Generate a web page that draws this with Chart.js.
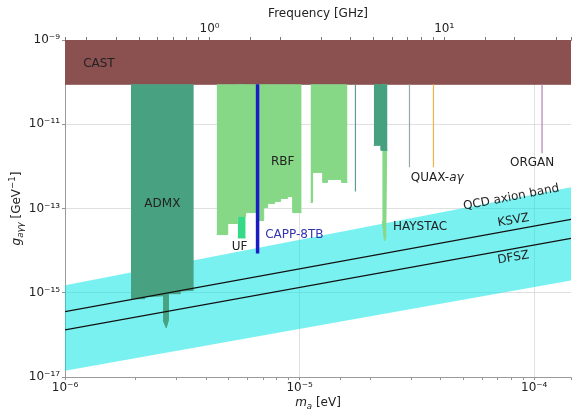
<!DOCTYPE html>
<html>
<head>
<meta charset="utf-8">
<script src="https://cdn.jsdelivr.net/npm/chart.js@4.4.1/dist/chart.umd.min.js"></script>
<style>
  html, body { margin: 0; padding: 0; background: #fff; }
</style>
</head>
<body>
<canvas id="axionChart" width="572" height="414"></canvas>
<script>
// axis ranges and ticks
const massMin = 1e-6, massMax = 1.435e-4;
const gMin = 1e-17, gMax = 1e-9;
const ghzPerEv = 1 / 4.1357e-6;
const massTicks = [1e-6, 1e-5, 1e-4];
const massTickLabels = ['10⁻⁶', '10⁻⁵', '10⁻⁴'];
const gTicks = [1e-17, 1e-15, 1e-13, 1e-11, 1e-9];
const gTickLabels = ['10⁻¹⁷', '10⁻¹⁵', '10⁻¹³', '10⁻¹¹', '10⁻⁹'];
const freqTicks = [1, 10];
const freqTickLabels = ['10⁰', '10¹'];

// CAST helioscope limit
const castBottom = 8.9e-11;
const castMass = [1e-6, 1.435e-4];
const castG = [8.9e-11, 8.9e-11];

// QCD band and model lines
const bandMass = [1e-6, 1.435e-4];
const bandTop = [1.5e-15, 3.2e-13];
const bandBottom = [1.4e-17, 1.95e-15];
const ksvzG = [3.55e-16, 5.5e-14];
const dfszG = [1.32e-16, 1.95e-14];

// haloscope exclusions (lower edge)
const admxMass = [1.91e-6, 2.19e-6, 2.19e-6, 2.64e-6, 2.64e-6, 2.70e-6, 2.76e-6, 2.76e-6, 3.10e-6, 3.10e-6, 3.54e-6];
const admxG = [7.2e-16, 7.2e-16, 8.0e-16, 8.5e-16, 2.0e-16, 1.47e-16, 2.2e-16, 9.5e-16, 9.5e-16, 1.1e-15, 1.15e-15];
const rbfMass = [4.43e-6, 4.94e-6, 5.45e-6, 5.89e-6, 6.62e-6, 7.03e-6, 7.31e-6, 7.83e-6, 8.30e-6, 8.89e-6, 9.34e-6, 1.02e-5];
const rbfG = [2.4e-14, 4.4e-14, 6.5e-14, 8.0e-14, 5.2e-14, 1.06e-13, 1.32e-13, 1.47e-13, 1.73e-13, 1.93e-13, 8.0e-14, 8.0e-14];
const rbf2Mass = [1.113e-5, 1.136e-5, 1.254e-5, 1.315e-5, 1.51e-5, 1.60e-5];
const rbf2G = [1.39e-13, 7.2e-13, 4.16e-13, 4.9e-13, 4.16e-13, 4.16e-13];
const ufMass = [5.45e-6, 5.89e-6];
const ufG = [2.0e-14, 2.0e-14];
const haystacMass = [2.07e-5, 2.22e-5, 2.37e-5];
const haystacG = [3.16e-12, 2.4e-12, 2.4e-12];
const haystacSpikeMass = [2.25e-5, 2.30e-5, 2.33e-5, 2.35e-5];
const haystacSpikeG = [5.0e-14, 1.7e-14, 2.0e-14, 2.4e-12];
const cappMass = 6.62e-6, cappG = 8.5e-15;
const tealMass = 1.73e-5, tealG = 2.54e-13;
const quaxMass = 2.94e-5, quaxG = 9.5e-13;
const quax2Mass = 3.72e-5, quax2G = 9.5e-13;
const organMass = 1.08e-4, organG = 2.04e-12;

// text labels (*...* = italic)
const labelText = ['CAST', 'ADMX', 'RBF', 'UF', 'CAPP-8TB', 'HAYSTAC', 'QUAX-*aγ*', 'ORGAN', 'QCD axion band', 'KSVZ', 'DFSZ'];
const labelMass = [1.395e-6, 2.60e-6, 8.47e-6, 5.55e-6, 9.5e-6, 3.26e-5, 3.86e-5, 9.8e-5, 7.98e-5, 8.15e-5, 8.15e-5];
const labelG = [2.7e-10, 1.26e-13, 1.28e-12, 1.25e-14, 2.4e-14, 3.7e-14, 5.2e-13, 1.21e-12, 1.83e-13, 5.2e-14, 6.8e-15];
const labelAngle = [0, 0, 0, 0, 0, 0, 0, 0, -11, -10, -10];

const FONT = '"DejaVu Sans", sans-serif';
const TEXT = '#222';

function pts(xs, ys) {
  return xs.map((x, i) => ({ x: x, y: ys[i] }));
}

// filled region between its lower edge and the CAST limit
function region(label, xs, ys, color, stepped) {
  return {
    label: label, data: pts(xs, ys),
    borderColor: color, backgroundColor: color, borderWidth: 1,
    pointRadius: 0, tension: 0, stepped: stepped ? 'before' : false,
    fill: { value: castBottom }
  };
}

function vline(label, x, yBottom, color, width) {
  return {
    label: label, data: pts([x, x], [castBottom, yBottom]),
    borderColor: color, borderWidth: width, pointRadius: 0, fill: false
  };
}

function pickLabel(v, ticks, labels) {
  const i = ticks.findIndex(t => Math.abs(t - v) / t < 1e-6);
  return i >= 0 ? labels[i] : '';
}

// draws a list of text runs centred on (0,0)
function drawRuns(c, runs, size, color) {
  let total = 0;
  runs.forEach(r => {
    const s = (r.sub || r.sup) ? size * 0.72 : size;
    r.font = (r.it ? 'italic ' : '') + s + 'px ' + FONT;
    c.font = r.font;
    r.w = c.measureText(r.t).width;
    total += r.w;
  });
  let x = -total / 2;
  c.fillStyle = color;
  c.textBaseline = 'middle';
  c.textAlign = 'left';
  runs.forEach(r => {
    c.font = r.font;
    const dy = r.sub ? size * 0.3 : (r.sup ? -size * 0.35 : 0);
    c.fillText(r.t, x, dy);
    x += r.w;
  });
}

function parseRuns(text) {
  return text.split('*').filter(t => t.length).map((t, i) => ({ t: t, it: text.startsWith('*') ? i % 2 === 0 : i % 2 === 1 }));
}

const textPlugin = {
  id: 'axionText',
  afterDatasetsDraw(chart) {
    const c = chart.ctx;
    const xs = chart.scales.x, ys = chart.scales.y;
    c.save();
    labelText.forEach((t, i) => {
      c.save();
      c.translate(xs.getPixelForValue(labelMass[i]), ys.getPixelForValue(labelG[i]));
      c.rotate(labelAngle[i] * Math.PI / 180);
      drawRuns(c, parseRuns(t), 12, t === 'CAPP-8TB' ? '#3434b0' : TEXT);
      c.restore();
    });
    c.restore();
  },
  afterDraw(chart) {
    const c = chart.ctx;
    const a = chart.chartArea;
    const cx = (a.left + a.right) / 2;
    c.save();
    c.translate(cx, 14);
    drawRuns(c, [{ t: 'Frequency [GHz]' }], 12, TEXT);
    c.restore();
    c.save();
    c.translate(cx, 403);
    drawRuns(c, [{ t: 'm', it: true }, { t: 'a', it: true, sub: true }, { t: ' [eV]' }], 12, TEXT);
    c.restore();
    c.save();
    c.translate(17, (a.top + a.bottom) / 2);
    c.rotate(-Math.PI / 2);
    drawRuns(c, [{ t: 'g', it: true }, { t: 'aγγ', it: true, sub: true }, { t: ' [GeV' }, { t: '−1', sup: true }, { t: ']' }], 12, TEXT);
    c.restore();
  }
};

const ctx = document.getElementById('axionChart').getContext('2d');

new Chart(ctx, {
  type: 'line',
  data: {
    datasets: [
      { label: 'KSVZ', data: pts(bandMass, ksvzG), borderColor: '#111', borderWidth: 1.2, pointRadius: 0, fill: false },
      { label: 'DFSZ', data: pts(bandMass, dfszG), borderColor: '#111', borderWidth: 1.2, pointRadius: 0, fill: false },
      vline('CAPP-8TB', cappMass, cappG, '#1c1cc4', 3.5),
      vline('teal', tealMass, tealG, '#5c9e90', 1.2),
      vline('QUAX', quaxMass, quaxG, '#8fabab', 1.2),
      vline('QUAX2', quax2Mass, quax2G, '#f2b24a', 1.2),
      vline('ORGAN', organMass, organG, '#b383b3', 1.2),
      region('HAYSTAC', haystacMass, haystacG, '#46a180', true),
      region('HAYSTAC spike', haystacSpikeMass, haystacSpikeG, '#86d886', false),
      region('ADMX', admxMass, admxG, '#48a281', false),
      region('RBF', rbfMass, rbfG, '#86d886', true),
      region('RBF2', rbf2Mass, rbf2G, '#86d886', true),
      region('UF', ufMass, ufG, '#34da88', true),
      { label: 'CAST', data: pts(castMass, castG), borderColor: '#8b5151', backgroundColor: '#8b5151', borderWidth: 1, pointRadius: 0, fill: 'end' },
      { label: 'band', data: pts(bandMass, bandTop), borderColor: 'transparent', backgroundColor: 'rgba(0,228,228,0.52)', borderWidth: 1, pointRadius: 0, fill: '+1' },
      { label: 'band low', data: pts(bandMass, bandBottom), borderColor: 'transparent', borderWidth: 1, pointRadius: 0, fill: false }
    ]
  },
  options: {
    responsive: false,
    animation: false,
    layout: { padding: 0 },
    plugins: { legend: { display: false }, tooltip: { enabled: false } },
    scales: {
      x: {
        type: 'logarithmic', position: 'bottom', min: massMin, max: massMax,
        afterFit: s => { s.height = 37; },
        ticks: {
          autoSkip: false, maxRotation: 0, padding: 1, color: TEXT,
          font: { family: FONT, size: 12 },
          callback: v => pickLabel(v, massTicks, massTickLabels)
        },
        grid: {
          color: c => pickLabel(c.tick.value, massTicks, massTickLabels) ? '#d8d8d8' : 'transparent',
          tickColor: '#777', tickLength: 3, lineWidth: 0.8
        },
        border: { color: '#9a9a9a' }
      },
      xTop: {
        type: 'logarithmic', position: 'top', display: true,
        min: massMin * ghzPerEv, max: massMax * ghzPerEv,
        afterFit: s => { s.height = 40; },
        ticks: {
          autoSkip: false, maxRotation: 0, padding: 1, color: TEXT,
          font: { family: FONT, size: 12 },
          callback: v => pickLabel(v, freqTicks, freqTickLabels)
        },
        grid: { drawOnChartArea: false, tickColor: '#777', tickLength: 3 },
        border: { color: '#9a9a9a' }
      },
      y: {
        type: 'logarithmic', min: gMin, max: gMax,
        afterBuildTicks: s => { s.ticks = gTicks.map(v => ({ value: v })); },
        afterFit: s => { s.width = 65; },
        ticks: {
          autoSkip: false, padding: 2, color: TEXT,
          font: { family: FONT, size: 12 },
          callback: v => pickLabel(v, gTicks, gTickLabels)
        },
        grid: { color: '#d8d8d8', tickColor: '#777', tickLength: 3, lineWidth: 0.8 },
        border: { color: '#9a9a9a' }
      }
    }
  },
  plugins: [textPlugin]
});
</script>
</body>
</html>
